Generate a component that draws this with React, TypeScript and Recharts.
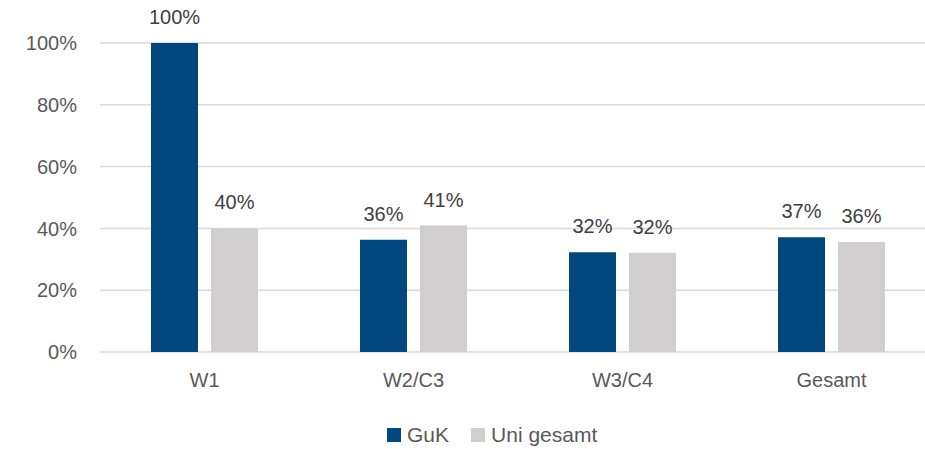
import { BarChart, Bar, XAxis, YAxis, CartesianGrid, LabelList } from 'recharts'

const categories = ['W1', 'W2/C3', 'W3/C4', 'Gesamt']
const gukValues = [1.0, 0.363, 0.323, 0.371]
const uniValues = [0.4, 0.409, 0.321, 0.356]
const yTicks = [0, 0.2, 0.4, 0.6, 0.8, 1.0]

const seriesNames = ['GuK', 'Uni gesamt']
const seriesColors = ['#00467F', '#D0CECE']

const data = categories.map((c, i) => ({
  name: c,
  guk: gukValues[i],
  uni: uniValues[i]
}))

const font = '"Liberation Sans", Arial, sans-serif'
const pct = (v: any) => `${Math.round(Number(v) * 100)}%`

export default function App() {
  return (
    <div style={{ position: 'absolute', left: 0, top: 0, width: 925, height: 449, overflow: 'hidden', background: '#fff', fontFamily: font }}>
      <BarChart
        width={936}
        height={449}
        data={data}
        margin={{ top: 43, right: 0, left: 0, bottom: 0 }}
        barGap={13}
        barSize={47}
      >
        <CartesianGrid vertical={false} stroke="#D9D9D9" strokeWidth={1.5} />
        <XAxis
          dataKey="name"
          axisLine={false}
          tickLine={false}
          tickMargin={15}
          height={97}
          tick={{ fill: '#595959', fontSize: 20, fontFamily: font }}
        />
        <YAxis
          domain={[0, 1]}
          ticks={yTicks}
          tickFormatter={pct}
          axisLine={false}
          tickLine={false}
          tickMargin={17}
          width={100}
          tick={{ fill: '#595959', fontSize: 20, fontFamily: font }}
        />
        <Bar dataKey="guk" fill={seriesColors[0]} isAnimationActive={false}>
          <LabelList dataKey="guk" position="top" offset={19} formatter={pct} fill="#404040" fontSize={20} fontFamily={font} />
        </Bar>
        <Bar dataKey="uni" fill={seriesColors[1]} isAnimationActive={false}>
          <LabelList dataKey="uni" position="top" offset={19} formatter={pct} fill="#404040" fontSize={20} fontFamily={font} />
        </Bar>
      </BarChart>
      <div style={{ position: 'absolute', left: 387, top: 424, display: 'flex', alignItems: 'center', fontSize: 21, color: '#595959', lineHeight: '22px' }}>
        {seriesNames.map((n, i) => (
          <div key={n} style={{ display: 'flex', alignItems: 'center', marginRight: 22 }}>
            <span style={{ display: 'inline-block', width: 14, height: 14, background: seriesColors[i], marginRight: 6 }} />
            <span>{n}</span>
          </div>
        ))}
      </div>
    </div>
  )
}
